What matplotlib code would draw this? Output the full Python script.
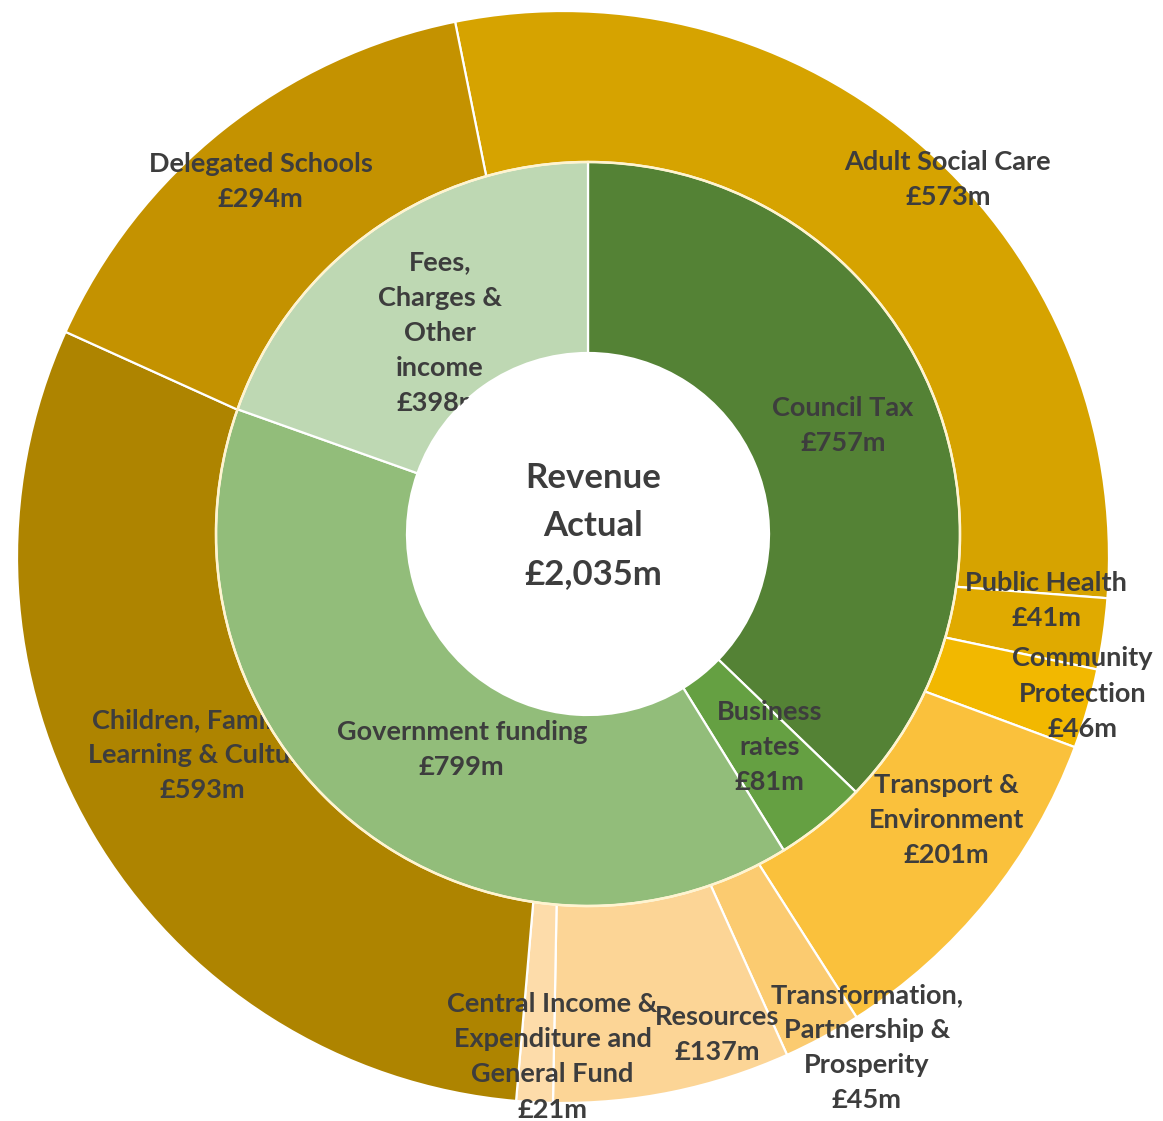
import numpy as np
import matplotlib.pyplot as plt
from matplotlib.patches import Circle

plt.rcParams['font.family'] = ['Lato', 'DejaVu Sans']

# outer ring - spending by area (£m)
spend_names = ["Adult Social Care", "Public Health", "Community\nProtection",
               "Transport &\nEnvironment", "Transformation,\nPartnership &\nProsperity",
               "Resources", "Central Income &\nExpenditure and\nGeneral Fund",
               "Children, Families,\nLearning & Culture", "Delegated Schools"]
spend_values = [573, 41, 46, 201, 45, 137, 21, 593, 294]
spend_colors = ["#D6A300", "#E0AA00", "#F2B800", "#FAC13C", "#FBCB70",
                "#FCD596", "#FDDCAA", "#AE8400", "#C49200"]

# inner ring - where the money comes from (£m)
income_names = ["Council Tax", "Business\nrates", "Government funding",
                "Fees,\nCharges &\nOther\nincome"]
income_values = [757, 81, 799, 398]
income_colors = ["#548235", "#65A042", "#92BD7A", "#BED8B3"]

# label placement tweaks (radius in px, angle shift in degrees)
spend_label_r = [539, 485, 537, 465, 577, 502, 500, 412, 482]
spend_label_dt = [4.1, -3.0, -1.4, -4.5, -3.4, -6.3, -1.8, 1.6, -0.3]
income_label_r = [277, 280, 250, 250]
income_label_dt = [0, -1.5, -8.6, -1.2]

W, H = 1163, 1121
outer_c = (563, H - 557)
inner_c = (588, H - 534)
outer_start = -11.4   # clockwise from 12 o'clock
txt_color = "#3D3D3D"
lbl_size = 19.5
lbl_spacing = 1.56


def mid_angles(values, start):
    v = np.asarray(values, float)
    edges = start + 360 * np.concatenate([[0], np.cumsum(v)]) / v.sum()
    return (edges[:-1] + edges[1:]) / 2


def polar(c, r, ang):
    a = np.radians(ang)
    return c[0] + r * np.sin(a), c[1] + r * np.cos(a)


fig = plt.figure(figsize=(W / 100, H / 100), dpi=100)
ax = fig.add_axes([0, 0, 1, 1])

ax.pie(spend_values, colors=spend_colors, radius=546, center=outer_c,
       startangle=90 - outer_start, counterclock=False,
       wedgeprops=dict(edgecolor='white', linewidth=1.6, zorder=1))

for name, v, ang, r, dt in zip(spend_names, spend_values,
                               mid_angles(spend_values, outer_start),
                               spend_label_r, spend_label_dt):
    x, y = polar(outer_c, r, ang + dt)
    ax.text(x, y, f"{name}\n£{v}m", ha='center', va='center', fontsize=lbl_size,
            fontweight='bold', color=txt_color, linespacing=lbl_spacing, zorder=2)

ax.pie(income_values, colors=income_colors, radius=372, center=inner_c,
       startangle=90, counterclock=False,
       wedgeprops=dict(width=191, edgecolor='white', linewidth=1.6, zorder=3))
ax.add_patch(Circle(inner_c, 372, fill=False, edgecolor='#FFF4CF', lw=1.8, zorder=3.5))

for name, v, ang, r, dt in zip(income_names, income_values,
                               mid_angles(income_values, 0),
                               income_label_r, income_label_dt):
    x, y = polar(inner_c, r, ang + dt)
    ax.text(x, y, f"{name}\n£{v}m", ha='center', va='center', fontsize=lbl_size,
            fontweight='bold', color=txt_color, linespacing=lbl_spacing, zorder=4)

# white hole in the middle, sits on top of the ring labels
ax.add_patch(Circle(inner_c, 181, facecolor='white', edgecolor='none', zorder=5))
ax.text(593, H - 526, f"Revenue\nActual\n£{sum(income_values):,}m", ha='center',
        va='center', fontsize=25, fontweight='bold', color=txt_color,
        linespacing=1.62, zorder=6)

ax.set_xlim(0, W)
ax.set_ylim(0, H)
ax.set_aspect('equal')
ax.axis('off')

fig.savefig('out.png', dpi=100)
